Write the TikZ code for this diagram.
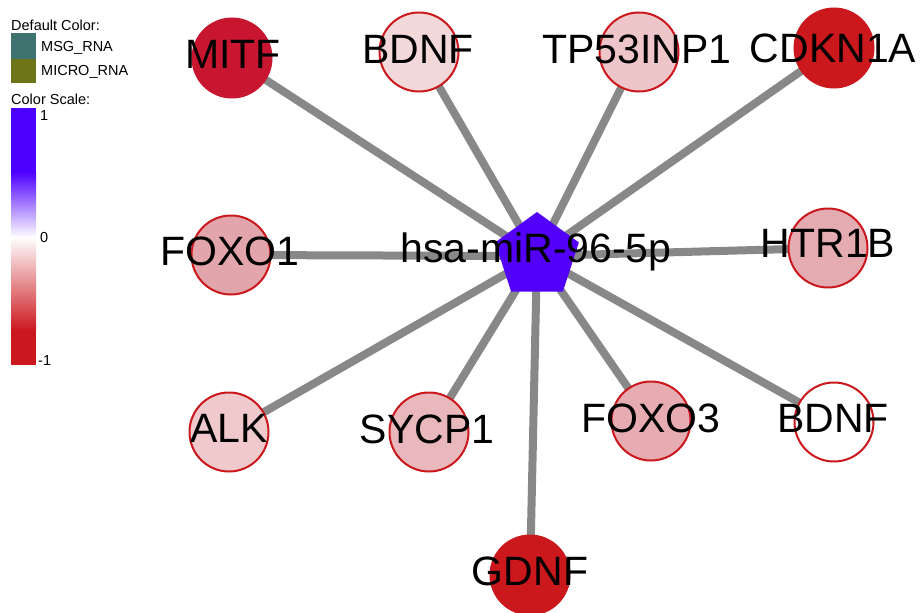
\documentclass[tikz,border=0pt]{standalone}
\usepackage{fontspec}
\setmainfont{Liberation Sans}
\usetikzlibrary{shapes.geometric,backgrounds}
\definecolor{nred}{HTML}{CA181D}
\definecolor{mitfred}{HTML}{C81530}
\definecolor{egray}{HTML}{888888}
\definecolor{hubblue}{HTML}{5200FA}
\definecolor{msg}{HTML}{3F7370}
\definecolor{micro}{HTML}{6E7519}
\definecolor{scblue}{HTML}{4E00FF}
\definecolor{scred}{HTML}{CB181E}
\definecolor{fBDNFa}{HTML}{F3D8DA}
\definecolor{fTP}{HTML}{EEC6C9}
\definecolor{fFOXOa}{HTML}{E2A5AB}
\definecolor{fHTR}{HTML}{E4ACB1}
\definecolor{fALK}{HTML}{EFC9CC}
\definecolor{fSYCP}{HTML}{E9B8BC}
\definecolor{fFOXOb}{HTML}{E6ACB1}
\begin{document}
\begin{tikzpicture}[x=1pt,y=-1pt,
  gene/.style={circle, draw=nred, line width=2pt, minimum size=79pt, inner sep=0pt},
  lbl/.style={anchor=base, font=\fontsize{41}{41}\selectfont, inner sep=0pt, text=black},
  edgeline/.style={draw=egray, line width=8pt},
  leg/.style={anchor=base west, font=\fontsize{14.5}{15}\selectfont, inner sep=0pt}]
\useasboundingbox (0,0) rectangle (921,613);
\begin{scope}[on background layer]
  \fill[white] (0,0) rectangle (921,613);
\end{scope}
% legend
\node[leg] (legtitle) at (11,30) {Default Color:};
\fill[msg] (11,33) rectangle (36,59);
\fill[micro] (11,59) rectangle (36,83);
\node[leg] (legmsg) at (41,51) {MSG\_RNA};
\node[leg] (legmicro) at (41,75) {MICRO\_RNA};
\node[leg] (legscale) at (11,104) {Color Scale:};
\fill[scblue] (11,108) rectangle (36,172.5);
\shade[top color=scblue, bottom color=white] (11,172) rectangle (36,237.5);
\shade[top color=white, bottom color=scred] (11,237) rectangle (36,330.5);
\fill[scred] (11,330) rectangle (36,365);
\node[leg] (legone) at (40,120) {1};
\node[leg] (legzero) at (40,242) {0};
\node[leg] (legmone) at (38,365) {-1};
% nodes
\node[regular polygon, regular polygon sides=5, minimum size=88pt, inner sep=0pt, fill=hubblue] (hub) at (537,256) {};
\node[gene, fill=mitfred, draw=mitfred] (mitf) at (232,58) {};
\node[gene, fill=fBDNFa] (bdnfa) at (419,52) {};
\node[gene, fill=fTP] (tp) at (639,52) {};
\node[gene, fill=nred] (cdkn) at (834,48) {};
\node[gene, fill=fFOXOa] (foxoa) at (231,255) {};
\node[gene, fill=fHTR] (htr) at (828,248) {};
\node[gene, fill=fALK] (alk) at (229,432) {};
\node[gene, fill=fSYCP] (sycp) at (429,432) {};
\node[gene, fill=fFOXOb] (foxob) at (651,421) {};
\node[gene, fill=white] (bdnfb) at (834,422) {};
\node[gene, fill=nred] (gdnf) at (530,575) {};
% edges
\begin{scope}[on background layer]
  \foreach \n in {mitf,bdnfa,tp,cdkn,foxoa,htr,alk,sycp,foxob,bdnfb,gdnf}
    \draw[edgeline] (hub.center) -- (\n.center);
\end{scope}
% labels
\node[lbl] (mitf-l) at (233,68) {MITF};
\node[lbl] (bdnfa-l) at (418,63) {BDNF};
\node[lbl] (tp-l) at (637,63) {TP53INP1};
\node[lbl] (cdkn-l) at (833,62) {CDKN1A};
\node[lbl] (foxoa-l) at (230,265) {FOXO1};
\node[lbl] (hub-l) at (536,262) {hsa-miR-96-5p};
\node[lbl] (htr-l) at (828,257) {HTR1B};
\node[lbl] (alk-l) at (229,442) {ALK};
\node[lbl] (sycp-l) at (427,443) {SYCP1};
\node[lbl] (foxob-l) at (651,432) {FOXO3};
\node[lbl] (bdnfb-l) at (833,432) {BDNF};
\node[lbl] (gdnf-l) at (530,585) {GDNF};
\end{tikzpicture}
\end{document}
